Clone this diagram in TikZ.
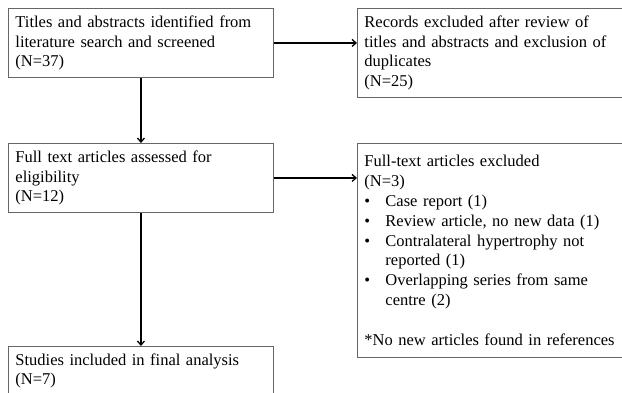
\documentclass[tikz,border=0pt]{standalone}
\usepackage{fontspec}
\setmainfont{Liberation Serif}
\usetikzlibrary{arrows.meta,positioning}
\definecolor{boxgray}{rgb}{0.4,0.4,0.4}
\tikzset{
  flowbox/.style={draw=boxgray, line width=0.9pt, anchor=north west, align=left,
    inner xsep=7pt, inner ysep=7pt, font=\fontsize{16.5}{19.8}\selectfont},
  flowarrow/.style={line width=1.3pt, -{Straight Barb[length=4pt,width=7pt]}}
}
\newcommand{\flowitem}{\makebox[21pt][l]{\textbullet}}
\newcommand{\flowhang}{\hspace*{21pt}}
\begin{document}
\begin{tikzpicture}[x=1pt,y=-1pt]
        \def\lw{251pt}
        \def\rw{270pt}
        \clip (0,0) rectangle (622,392);
        %Draw boxes
        \node[flowbox, text width=\lw, minimum height=69pt] (search) at (8,8)
          {Titles and abstracts identified from\\literature search and screened\\(N=37)};
        \node[flowbox, text width=\rw, minimum height=89pt] (excl1) at (357,8)
          {Records excluded after review of\\titles and abstracts and exclusion of\\duplicates\\(N=25)};
        \node[flowbox, text width=\lw, minimum height=69pt] (fulltext) at (8,143)
          {Full text articles assessed for\\eligibility\\(N=12)};
        \node[flowbox, text width=\rw, minimum height=214pt] (excl2) at (357,143)
          {Full-text articles excluded\\(N=3)\\
           \flowitem Case report (1)\\
           \flowitem Review article, no new data (1)\\
           \flowitem Contralateral hypertrophy not\\
           \flowhang reported (1)\\
           \flowitem Overlapping series from same\\
           \flowhang centre (2)\\[19.8pt]
           *No new articles found in references};
        \node[flowbox, text width=\lw] (included) at (8,346)
          {Studies included in final analysis\\(N=7)};
        %Draw arrows
        \draw[flowarrow] (search.east) -- (search.east -| excl1.west);
        \draw[flowarrow] (search.south) -- (fulltext.north);
        \draw[flowarrow] (fulltext.east) -- (fulltext.east -| excl2.west);
        \draw[flowarrow] (fulltext.south) -- (included.north);
\end{tikzpicture}
\end{document}
